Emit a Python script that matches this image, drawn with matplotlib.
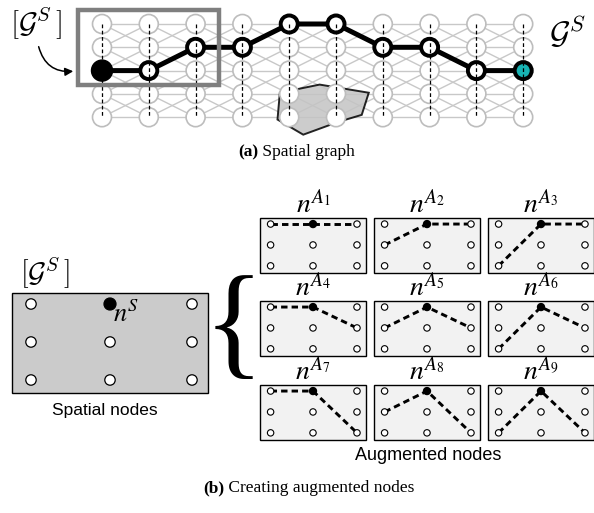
import numpy as np
import matplotlib
matplotlib.use("Agg")
import matplotlib.pyplot as plt
from matplotlib.patches import Circle, Rectangle, Polygon, FancyArrowPatch

plt.rcParams['font.family'] = ['Liberation Serif', 'DejaVu Serif']

# ---- top panel: spatial graph ----
n_cols = 10
n_rows = 5
path_rows = [2, 2, 1, 1, 0, 0, 1, 1, 2, 2]   # row index of the path in each column
# obstacle polygon, in grid units (col, row)
obstacle_cols = [3.8, 4.65, 5.7, 5.55, 5.05, 4.3, 3.75]
obstacle_rows = [2.95, 2.6, 2.95, 3.9, 4.2, 4.75, 4.1]
window_cols = (0, 2)   # columns inside the [G^S] window
window_rows = (0, 2)

# ---- bottom panel: augmented nodes ----
aug_left = [0, 1, 2, 0, 1, 2, 0, 1, 2]    # row of the left neighbour
aug_right = [0, 0, 0, 1, 1, 1, 2, 2, 2]   # row of the right neighbour
aug_labels = [r'$n^{A_{%d}}$' % (i + 1) for i in range(9)]

fig = plt.figure(figsize=(5.94, 5.13), dpi=100)
ax = fig.add_axes([0, 0, 1, 1])
ax.set_xlim(0, 594)
ax.set_ylim(513, 0)
ax.set_aspect('equal')
ax.axis('off')

# grid layout (pixels)
gx0, gdx = 102, 46.8
gy0, gdy = 24, 23.3
def gx(c):
    return gx0 + gdx * np.asarray(c)
def gy(r):
    return gy0 + gdy * np.asarray(r)

edge_col = '#c8c8c8'
for c in range(n_cols - 1):
    for r in range(n_rows):
        for d in (-1, 0, 1):
            r2 = r + d
            if 0 <= r2 < n_rows:
                ax.plot([gx(c), gx(c + 1)], [gy(r), gy(r2)], color=edge_col, lw=1.0, zorder=1)

ax.add_patch(Polygon(np.column_stack([gx(obstacle_cols), gy(obstacle_rows)]),
                     closed=True, facecolor='#c4c4c4', edgecolor='black', lw=1.4,
                     alpha=0.85, zorder=2))

for c in range(n_cols):
    for r in range(n_rows):
        ax.add_patch(Circle((gx(c), gy(r)), 9.5, facecolor='white', edgecolor='#bdbdbd',
                            lw=1.2, zorder=3))

ax.plot(gx(range(n_cols)), gy(path_rows), color='black', lw=3.6, zorder=4,
        solid_capstyle='round')
for c, r in enumerate(path_rows):
    if c == 0:
        ax.add_patch(Circle((gx(c), gy(r)), 10.5, facecolor='black', edgecolor='black',
                            lw=1, zorder=5))
    elif c == n_cols - 1:
        ax.add_patch(Circle((gx(c), gy(r)), 8.5, facecolor='#17b2b2', edgecolor='black',
                            lw=2.8, zorder=5))
    else:
        ax.add_patch(Circle((gx(c), gy(r)), 8.5, facecolor='white', edgecolor='black',
                            lw=2.8, zorder=5))

for c in range(n_cols):
    ax.plot([gx(c), gx(c)], [gy(0), gy(n_rows - 1)], color='black', lw=0.9,
            ls=(0, (3, 2)), zorder=6)

# window box
wx0 = gx(window_cols[0]) - 24
wx1 = gx(window_cols[1]) + 23
wy0 = gy(window_rows[0]) - 14
wy1 = gy(window_rows[1]) + 14
ax.add_patch(Rectangle((wx0, wy0), wx1 - wx0, wy1 - wy0, fill=False,
                       edgecolor='#7f7f7f', lw=3.2, zorder=7))

ax.text(36, 24, r'$[\mathcal{G}^S\,]$', fontsize=21, ha='center', va='center',
        math_fontfamily='cm')
ax.add_patch(FancyArrowPatch((38, 44), (76, 71), connectionstyle='arc3,rad=0.45',
                             arrowstyle='-|>', mutation_scale=12, lw=1.1, color='black'))
ax.text(567, 33, r'$\mathcal{G}^S$', fontsize=23, ha='center', va='center',
        math_fontfamily='cm')

ax.text(258, 152, '(a)', fontsize=12.5, fontweight='bold', ha='right', va='center')
ax.text(258, 152, ' Spatial graph', fontsize=12.5, ha='left', va='center')

# ---- spatial nodes panel ----
sx = [31, 110, 192]
sy = [304, 342, 380]
ax.add_patch(Rectangle((12, 293), 196, 100, facecolor='#cbcbcb', edgecolor='black',
                       lw=1.0, zorder=1))
for i, x in enumerate(sx):
    for j, y in enumerate(sy):
        black = (i == 1 and j == 0)
        ax.add_patch(Circle((x, y), 5.2 if not black else 6, facecolor='black' if black else 'white',
                            edgecolor='black', lw=0.9, zorder=3))
ax.text(113, 322, r'$n^S$', fontsize=19, ha='left', va='baseline', math_fontfamily='stix')
ax.text(45, 273, r'$[\mathcal{G}^S\,]$', fontsize=20, ha='center', va='center',
        math_fontfamily='cm')
ax.text(105, 411, 'Spatial nodes', fontsize=12.5, ha='center', va='center',
        family='Liberation Sans')

ax.text(234, 332, '{', fontsize=90, ha='center', va='center', family='Liberation Serif')

# ---- augmented node panels ----
pw, ph = 106, 55
px0 = [260, 374, 488]
py0 = [218, 301, 385]
fx = [0.10, 0.50, 0.915]
fy = [0.11, 0.49, 0.87]
for k in range(9):
    row, col = divmod(k, 3)
    x0, y0 = px0[col], py0[row]
    ax.add_patch(Rectangle((x0, y0), pw, ph, facecolor='#f2f2f2', edgecolor='black',
                           lw=1.0, zorder=1))
    nx = [x0 + f * pw for f in fx]
    ny = [y0 + f * ph for f in fy]
    ax.plot([nx[0], nx[1], nx[2]], [ny[aug_left[k]], ny[0], ny[aug_right[k]]],
            color='black', lw=2.1, ls=(0, (2.2, 1.4)), zorder=2)
    for i in range(3):
        for j in range(3):
            black = (i == 1 and j == 0)
            ax.add_patch(Circle((nx[i], ny[j]), 3.2 if not black else 3.6,
                                facecolor='black' if black else 'white',
                                edgecolor='black', lw=0.8, zorder=3))
    ax.text(x0 + pw / 2, y0 - 5, aug_labels[k], fontsize=20, ha='center', va='baseline',
            math_fontfamily='stix')

ax.text(428, 455, 'Augmented nodes', fontsize=13, ha='center', va='center',
        family='Liberation Sans')

ax.text(224, 488, '(b)', fontsize=12.5, fontweight='bold', ha='right', va='center')
ax.text(224, 488, ' Creating augmented nodes', fontsize=12.5, ha='left', va='center')

fig.savefig('out.png', dpi=100)
